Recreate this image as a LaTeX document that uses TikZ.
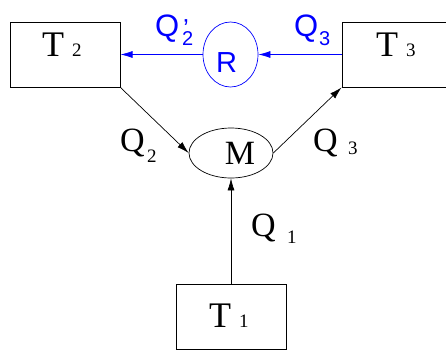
\documentclass[tikz,border=0pt]{standalone}
\usepackage{fontspec}
\setmainfont{Liberation Serif}
\newfontfamily\helv{Liberation Sans}
\usetikzlibrary{arrows.meta,shapes.geometric}

\tikzset{
  tank/.style={draw, line width=1pt, minimum width=110pt, minimum height=65pt, inner sep=0pt},
  mixer/.style={draw, ellipse, line width=0.7pt, inner sep=0pt},
  flow/.style={-{Latex[length=12pt,width=7pt]}, line width=0.7pt},
  bigtxt/.style={font=\fontsize{36}{40}\selectfont, inner sep=0pt, anchor=base west},
  bluetxt/.style={font=\helv\fontsize{31}{34}\selectfont, inner sep=0pt, anchor=base west, text=blue},
}
\newcommand{\idx}[1]{{\fontsize{19}{22}\selectfont #1}}

\begin{document}
\begin{tikzpicture}[x=1pt,y=-1pt]
  \useasboundingbox (0,0) rectangle (446,351);
  % tanks
  \node[tank] (t2) at (65,54.5) {};
  \node[tank] (t3) at (397,54.5) {};
  \node[tank] (t1) at (231,317) {};
  % mixing point and recycle
  \node[mixer, minimum width=84pt, minimum height=50pt] (m) at (231,153) {};
  \node[mixer, draw=blue, minimum width=55pt, minimum height=65pt] (r) at (230.5,54.5) {};
  % texts
  \node[bigtxt] (t2txt) at (42,56) {T\hspace{8pt}\idx{2}};
  \node[bigtxt] (t3txt) at (376,56) {T\hspace{8pt}\idx{3}};
  \node[bigtxt] (t1txt) at (209,327) {T\hspace{8pt}\idx{1}};
  \node[bigtxt, font=\fontsize{34}{38}\selectfont, anchor=base] (mtxt) at (240,164) {M};
  \node[bluetxt, font=\helv\fontsize{29}{32}\selectfont] (rtxt) at (216,72) {R};
  \node[bigtxt, font=\fontsize{34}{38}\selectfont] (q2) at (120,151) {Q};
  \node[bigtxt] (q2i) at (147,162) {\idx{2}};
  \node[bigtxt, font=\fontsize{34}{38}\selectfont] (q3) at (313,151) {Q};
  \node[bigtxt] (q3i) at (348,154) {\idx{3}};
  \node[bigtxt, font=\fontsize{34}{38}\selectfont] (q1) at (251,236) {Q};
  \node[bigtxt] (q1i) at (287,243) {\idx{1}};
  \node[bluetxt] (rq2) at (155,36) {Q};
  \node[bluetxt, font=\helv\fontsize{26}{30}\selectfont] (rq2p) at (183,37) {’};
  \node[bluetxt, font=\helv\fontsize{20}{22}\selectfont] (rq2i) at (182,45) {2};
  \node[bluetxt] (rq3) at (294,36) {Q};
  \node[bluetxt, font=\helv\fontsize{20}{22}\selectfont] (rq3i) at (319,45) {3};
  % flows
  \draw[flow] (t2.south east) -- (m.west);
  \draw[flow] (m.east) -- (t3.south west);
  \draw[flow] (t1.north) -- (m.south);
  \draw[flow, blue] (t3.west) -- (r.east);
  \draw[flow, blue] (r.west) -- (t2.east);
\end{tikzpicture}
\end{document}
